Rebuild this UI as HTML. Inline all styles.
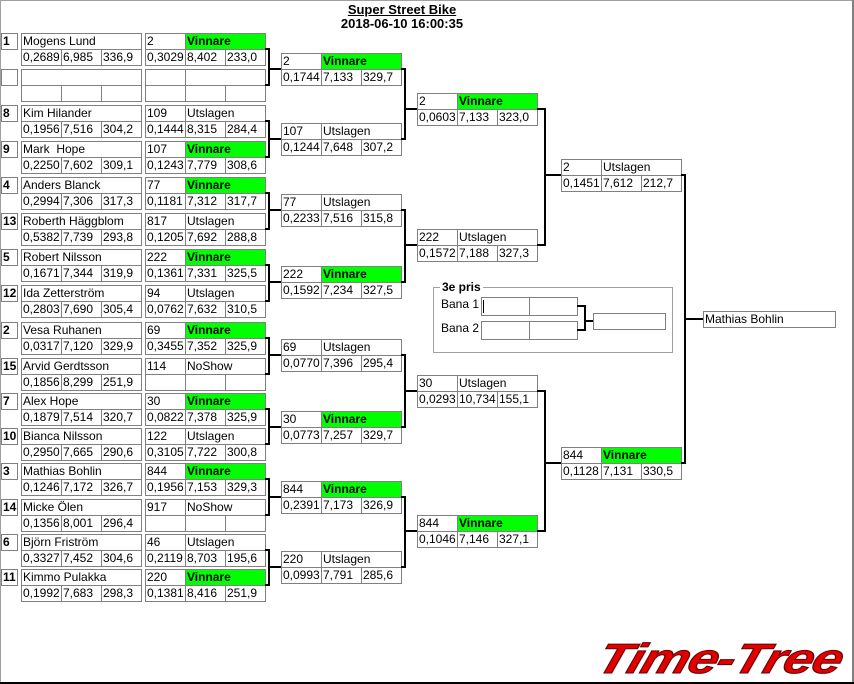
<!DOCTYPE html>
<html><head><meta charset="utf-8"><style>
html,body{margin:0;padding:0;width:854px;height:684px;overflow:hidden;background:#fff}
#r{position:relative;width:854px;height:684px;font-family:"Liberation Sans",sans-serif}
p{position:absolute;margin:0;box-sizing:border-box;border:1px solid #808080;height:17px;font:12px/15px "Liberation Sans",sans-serif;padding-left:1px;white-space:nowrap;overflow:hidden;color:#000;background:#fff}
.a{width:121px}.b{width:41px}.d{width:81px}.s{width:17px;font-weight:bold}
.g{background:#00ff00;font-weight:bold}
.t{position:absolute;left:0;width:804px;text-align:center;font:bold 13px/14px "Liberation Sans",sans-serif}
</style></head><body><div id="r">
<div style="position:absolute;left:0;top:0;width:1px;height:684px;background:#a0a0a0"></div>
<div style="position:absolute;left:0;top:0;width:854px;height:1px;background:#a0a0a0"></div>
<div style="position:absolute;left:852px;top:0;width:2px;height:684px;background:#808080"></div>
<div style="position:absolute;left:0;top:682px;width:854px;height:2px;background:#000"></div>
<div class="t" style="top:3px;text-decoration:underline">Super Street Bike</div>
<div class="t" style="top:17px">2018-06-10 16:00:35</div>

<!-- column 1 & 2 -->
<p class=s style=left:1px;top:33px>1</p><p class=a style=left:21px;top:33px>Mogens Lund</p><p class=b style=left:21px;top:49px>0,2689</p><p class=b style=left:61px;top:49px>6,985</p><p class=b style=left:101px;top:49px>336,9</p>
<p class=b style=left:145px;top:33px>2</p><p class="d g" style=left:185px;top:33px>Vinnare</p><p class=b style=left:145px;top:49px>0,3029</p><p class=b style=left:185px;top:49px>8,402</p><p class=b style=left:225px;top:49px>233,0</p>

<p class=s style=left:1px;top:69px></p><p class=a style=left:21px;top:69px></p><p class=b style=left:21px;top:85px></p><p class=b style=left:61px;top:85px></p><p class=b style=left:101px;top:85px></p>
<p class=b style=left:145px;top:69px></p><p class=d style=left:185px;top:69px></p><p class=b style=left:145px;top:85px></p><p class=b style=left:185px;top:85px></p><p class=b style=left:225px;top:85px></p>

<p class=s style=left:1px;top:105px>8</p><p class=a style=left:21px;top:105px>Kim Hilander</p><p class=b style=left:21px;top:121px>0,1956</p><p class=b style=left:61px;top:121px>7,516</p><p class=b style=left:101px;top:121px>304,2</p>
<p class=b style=left:145px;top:105px>109</p><p class=d style=left:185px;top:105px>Utslagen</p><p class=b style=left:145px;top:121px>0,1444</p><p class=b style=left:185px;top:121px>8,315</p><p class=b style=left:225px;top:121px>284,4</p>

<p class=s style=left:1px;top:141px>9</p><p class=a style=left:21px;top:141px>Mark&nbsp; Hope</p><p class=b style=left:21px;top:157px>0,2250</p><p class=b style=left:61px;top:157px>7,602</p><p class=b style=left:101px;top:157px>309,1</p>
<p class=b style=left:145px;top:141px>107</p><p class="d g" style=left:185px;top:141px>Vinnare</p><p class=b style=left:145px;top:157px>0,1243</p><p class=b style=left:185px;top:157px>7,779</p><p class=b style=left:225px;top:157px>308,6</p>

<p class=s style=left:1px;top:177px>4</p><p class=a style=left:21px;top:177px>Anders Blanck</p><p class=b style=left:21px;top:193px>0,2994</p><p class=b style=left:61px;top:193px>7,306</p><p class=b style=left:101px;top:193px>317,3</p>
<p class=b style=left:145px;top:177px>77</p><p class="d g" style=left:185px;top:177px>Vinnare</p><p class=b style=left:145px;top:193px>0,1181</p><p class=b style=left:185px;top:193px>7,312</p><p class=b style=left:225px;top:193px>317,7</p>

<p class=s style=left:1px;top:213px>13</p><p class=a style=left:21px;top:213px>Roberth Häggblom</p><p class=b style=left:21px;top:229px>0,5382</p><p class=b style=left:61px;top:229px>7,739</p><p class=b style=left:101px;top:229px>293,8</p>
<p class=b style=left:145px;top:213px>817</p><p class=d style=left:185px;top:213px>Utslagen</p><p class=b style=left:145px;top:229px>0,1205</p><p class=b style=left:185px;top:229px>7,692</p><p class=b style=left:225px;top:229px>288,8</p>

<p class=s style=left:1px;top:249px>5</p><p class=a style=left:21px;top:249px>Robert Nilsson</p><p class=b style=left:21px;top:265px>0,1671</p><p class=b style=left:61px;top:265px>7,344</p><p class=b style=left:101px;top:265px>319,9</p>
<p class=b style=left:145px;top:249px>222</p><p class="d g" style=left:185px;top:249px>Vinnare</p><p class=b style=left:145px;top:265px>0,1361</p><p class=b style=left:185px;top:265px>7,331</p><p class=b style=left:225px;top:265px>325,5</p>

<p class=s style=left:1px;top:285px>12</p><p class=a style=left:21px;top:285px>Ida Zetterström</p><p class=b style=left:21px;top:301px>0,2803</p><p class=b style=left:61px;top:301px>7,690</p><p class=b style=left:101px;top:301px>305,4</p>
<p class=b style=left:145px;top:285px>94</p><p class=d style=left:185px;top:285px>Utslagen</p><p class=b style=left:145px;top:301px>0,0762</p><p class=b style=left:185px;top:301px>7,632</p><p class=b style=left:225px;top:301px>310,5</p>

<p class=s style=left:1px;top:322px>2</p><p class=a style=left:21px;top:322px>Vesa Ruhanen</p><p class=b style=left:21px;top:338px>0,0317</p><p class=b style=left:61px;top:338px>7,120</p><p class=b style=left:101px;top:338px>329,9</p>
<p class=b style=left:145px;top:322px>69</p><p class="d g" style=left:185px;top:322px>Vinnare</p><p class=b style=left:145px;top:338px>0,3455</p><p class=b style=left:185px;top:338px>7,352</p><p class=b style=left:225px;top:338px>325,9</p>

<p class=s style=left:1px;top:358px>15</p><p class=a style=left:21px;top:358px>Arvid Gerdtsson</p><p class=b style=left:21px;top:374px>0,1856</p><p class=b style=left:61px;top:374px>8,299</p><p class=b style=left:101px;top:374px>251,9</p>
<p class=b style=left:145px;top:358px>114</p><p class=d style=left:185px;top:358px>NoShow</p><p class=b style=left:145px;top:374px></p><p class=b style=left:185px;top:374px></p><p class=b style=left:225px;top:374px></p>

<p class=s style=left:1px;top:393px>7</p><p class=a style=left:21px;top:393px>Alex Hope</p><p class=b style=left:21px;top:409px>0,1879</p><p class=b style=left:61px;top:409px>7,514</p><p class=b style=left:101px;top:409px>320,7</p>
<p class=b style=left:145px;top:393px>30</p><p class="d g" style=left:185px;top:393px>Vinnare</p><p class=b style=left:145px;top:409px>0,0822</p><p class=b style=left:185px;top:409px>7,378</p><p class=b style=left:225px;top:409px>325,9</p>

<p class=s style=left:1px;top:428px>10</p><p class=a style=left:21px;top:428px>Bianca Nilsson</p><p class=b style=left:21px;top:444px>0,2950</p><p class=b style=left:61px;top:444px>7,665</p><p class=b style=left:101px;top:444px>290,6</p>
<p class=b style=left:145px;top:428px>122</p><p class=d style=left:185px;top:428px>Utslagen</p><p class=b style=left:145px;top:444px>0,3105</p><p class=b style=left:185px;top:444px>7,722</p><p class=b style=left:225px;top:444px>300,8</p>

<p class=s style=left:1px;top:463px>3</p><p class=a style=left:21px;top:463px>Mathias Bohlin</p><p class=b style=left:21px;top:479px>0,1246</p><p class=b style=left:61px;top:479px>7,172</p><p class=b style=left:101px;top:479px>326,7</p>
<p class=b style=left:145px;top:463px>844</p><p class="d g" style=left:185px;top:463px>Vinnare</p><p class=b style=left:145px;top:479px>0,1956</p><p class=b style=left:185px;top:479px>7,153</p><p class=b style=left:225px;top:479px>329,3</p>

<p class=s style=left:1px;top:499px>14</p><p class=a style=left:21px;top:499px>Micke Ölen</p><p class=b style=left:21px;top:515px>0,1356</p><p class=b style=left:61px;top:515px>8,001</p><p class=b style=left:101px;top:515px>296,4</p>
<p class=b style=left:145px;top:499px>917</p><p class=d style=left:185px;top:499px>NoShow</p><p class=b style=left:145px;top:515px></p><p class=b style=left:185px;top:515px></p><p class=b style=left:225px;top:515px></p>

<p class=s style=left:1px;top:534px>6</p><p class=a style=left:21px;top:534px>Björn Friström</p><p class=b style=left:21px;top:550px>0,3327</p><p class=b style=left:61px;top:550px>7,452</p><p class=b style=left:101px;top:550px>304,6</p>
<p class=b style=left:145px;top:534px>46</p><p class=d style=left:185px;top:534px>Utslagen</p><p class=b style=left:145px;top:550px>0,2119</p><p class=b style=left:185px;top:550px>8,703</p><p class=b style=left:225px;top:550px>195,6</p>

<p class=s style=left:1px;top:569px>11</p><p class=a style=left:21px;top:569px>Kimmo Pulakka</p><p class=b style=left:21px;top:585px>0,1992</p><p class=b style=left:61px;top:585px>7,683</p><p class=b style=left:101px;top:585px>298,3</p>
<p class=b style=left:145px;top:569px>220</p><p class="d g" style=left:185px;top:569px>Vinnare</p><p class=b style=left:145px;top:585px>0,1381</p><p class=b style=left:185px;top:585px>8,416</p><p class=b style=left:225px;top:585px>251,9</p>

<!-- column 3 -->
<p class=b style=left:281px;top:53px>2</p><p class="d g" style=left:321px;top:53px>Vinnare</p><p class=b style=left:281px;top:69px>0,1744</p><p class=b style=left:321px;top:69px>7,133</p><p class=b style=left:361px;top:69px>329,7</p>
<p class=b style=left:281px;top:123px>107</p><p class=d style=left:321px;top:123px>Utslagen</p><p class=b style=left:281px;top:139px>0,1244</p><p class=b style=left:321px;top:139px>7,648</p><p class=b style=left:361px;top:139px>307,2</p>
<p class=b style=left:281px;top:194px>77</p><p class=d style=left:321px;top:194px>Utslagen</p><p class=b style=left:281px;top:210px>0,2233</p><p class=b style=left:321px;top:210px>7,516</p><p class=b style=left:361px;top:210px>315,8</p>
<p class=b style=left:281px;top:266px>222</p><p class="d g" style=left:321px;top:266px>Vinnare</p><p class=b style=left:281px;top:282px>0,1592</p><p class=b style=left:321px;top:282px>7,234</p><p class=b style=left:361px;top:282px>327,5</p>
<p class=b style=left:281px;top:339px>69</p><p class=d style=left:321px;top:339px>Utslagen</p><p class=b style=left:281px;top:355px>0,0770</p><p class=b style=left:321px;top:355px>7,396</p><p class=b style=left:361px;top:355px>295,4</p>
<p class=b style=left:281px;top:411px>30</p><p class="d g" style=left:321px;top:411px>Vinnare</p><p class=b style=left:281px;top:427px>0,0773</p><p class=b style=left:321px;top:427px>7,257</p><p class=b style=left:361px;top:427px>329,7</p>
<p class=b style=left:281px;top:481px>844</p><p class="d g" style=left:321px;top:481px>Vinnare</p><p class=b style=left:281px;top:497px>0,2391</p><p class=b style=left:321px;top:497px>7,173</p><p class=b style=left:361px;top:497px>326,9</p>
<p class=b style=left:281px;top:551px>220</p><p class=d style=left:321px;top:551px>Utslagen</p><p class=b style=left:281px;top:567px>0,0993</p><p class=b style=left:321px;top:567px>7,791</p><p class=b style=left:361px;top:567px>285,6</p>

<!-- round 3 -->
<p class=b style=left:417px;top:93px>2</p><p class="d g" style=left:457px;top:93px>Vinnare</p><p class=b style=left:417px;top:109px>0,0603</p><p class=b style=left:457px;top:109px>7,133</p><p class=b style=left:497px;top:109px>323,0</p>
<p class=b style=left:417px;top:229px>222</p><p class=d style=left:457px;top:229px>Utslagen</p><p class=b style=left:417px;top:245px>0,1572</p><p class=b style=left:457px;top:245px>7,188</p><p class=b style=left:497px;top:245px>327,3</p>
<p class=b style=left:417px;top:375px>30</p><p class=d style=left:457px;top:375px>Utslagen</p><p class=b style=left:417px;top:391px>0,0293</p><p class=b style=left:457px;top:391px>10,734</p><p class=b style=left:497px;top:391px>155,1</p>
<p class=b style=left:417px;top:515px>844</p><p class="d g" style=left:457px;top:515px>Vinnare</p><p class=b style=left:417px;top:531px>0,1046</p><p class=b style=left:457px;top:531px>7,146</p><p class=b style=left:497px;top:531px>327,1</p>

<!-- round 4 -->
<p class=b style=left:561px;top:159px>2</p><p class=d style=left:601px;top:159px>Utslagen</p><p class=b style=left:561px;top:175px>0,1451</p><p class=b style=left:601px;top:175px>7,612</p><p class=b style=left:641px;top:175px>212,7</p>
<p class=b style=left:561px;top:447px>844</p><p class="d g" style=left:601px;top:447px>Vinnare</p><p class=b style=left:561px;top:463px>0,1128</p><p class=b style=left:601px;top:463px>7,131</p><p class=b style=left:641px;top:463px>330,5</p>

<!-- final -->
<p style="left:703px;top:311px;width:133px">Mathias Bohlin</p>

<!-- 3e pris -->
<div style="position:absolute;left:433px;top:287px;width:238px;height:64px;border:1px solid #a0a0a0"></div>
<div style="position:absolute;left:440px;top:280px;padding:0 2px;background:#fff;font:bold 12px/14px 'Liberation Sans',sans-serif">3e pris</div>
<div style="position:absolute;left:441px;top:297px;font:12px/14px 'Liberation Sans',sans-serif">Bana 1</div>
<div style="position:absolute;left:441px;top:321px;font:12px/14px 'Liberation Sans',sans-serif">Bana 2</div>
<p style="left:481px;top:297px;width:49px;height:19px"></p><p style="left:529px;top:297px;width:49px;height:19px"></p>
<p style="left:481px;top:321px;width:49px;height:19px"></p><p style="left:529px;top:321px;width:49px;height:19px"></p>
<div style="position:absolute;left:483px;top:300px;width:1px;height:13px;background:#000"></div>
<p style="left:593px;top:313px;width:73px"></p>

<svg width="854" height="684" style="position:absolute;left:0;top:0" fill="none" stroke="#000" stroke-width="2">
<path d="M265 49H269V85H265M269 69H281M265 121H269V157H265M269 139H281M265 193H269V229H265M269 210H281M265 265H269V301H265M269 282H281M265 338H269V374H265M269 355H281M265 409H269V444H265M269 427H281M265 479H269V515H265M269 497H281M265 550H269V585H265M269 567H281"/>
<path d="M401 69H405V139H401M405 109H417M401 210H405V282H401M405 245H417M401 355H405V427H401M405 391H417M401 497H405V567H401M405 531H417"/>
<path d="M537 109H545V245H537M545 175H561M537 391H545V531H537M545 463H561"/>
<path d="M681 175H685V463H681M685 319H703"/>
<path d="M577 306H585V330H577M585 321H593"/>
</svg>

<div style="position:absolute;left:606px;top:636px;font:italic bold 42px/46px 'Liberation Sans',sans-serif;color:#e00000;-webkit-text-stroke:1px #600;transform:scaleX(1.28) skewX(-14deg);transform-origin:left top;letter-spacing:-1px;white-space:nowrap">Time-Tree</div>
</div></body></html>
